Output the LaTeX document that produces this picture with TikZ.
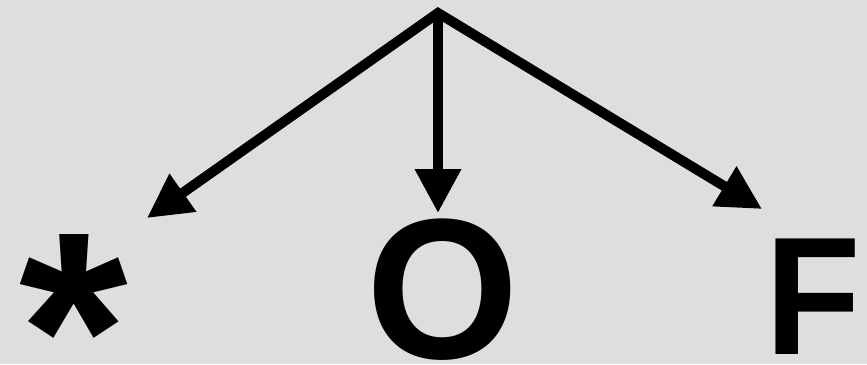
\documentclass[tikz,border=0pt]{standalone}
\usepackage{fontspec}
\setmainfont{Liberation Sans}
\usetikzlibrary{arrows.meta}
\definecolor{bg}{RGB}{221,222,224}
\tikzset{
  tip/.style={Triangle[length=44pt,width=44pt]},
  conn/.style={line width=10pt, -{Triangle[length=44pt,width=44pt]}, miter limit=20},
  glyph/.style={inner sep=0pt, outer sep=0pt, anchor=base west, font=\bfseries}
}
\begin{document}
\begin{tikzpicture}[x=1pt,y=-1pt]
\fill[bg] (0,0) rectangle (867,364);
\useasboundingbox (0,0) rectangle (867,364);
\coordinate (apex) at (438,13);
\coordinate (tl) at (147,218);
\coordinate (tm) at (438,213);
\coordinate (tr) at (762,209);
\node[glyph] (star) at (19,426) {\fontsize{279}{279}\selectfont *};
\node[glyph, xscale=0.98] (o) at (366,358) {\fontsize{200}{200}\selectfont O};
\node[glyph, xscale=0.93] (f) at (765,354) {\fontsize{168}{168}\selectfont F};
\draw[line width=10pt, {Triangle[length=44pt,width=44pt]}-{Triangle[length=44pt,width=44pt]}, miter limit=20] (tl) -- (apex) -- (tr);
\draw[conn] (apex) -- (tm);
\end{tikzpicture}
\end{document}
